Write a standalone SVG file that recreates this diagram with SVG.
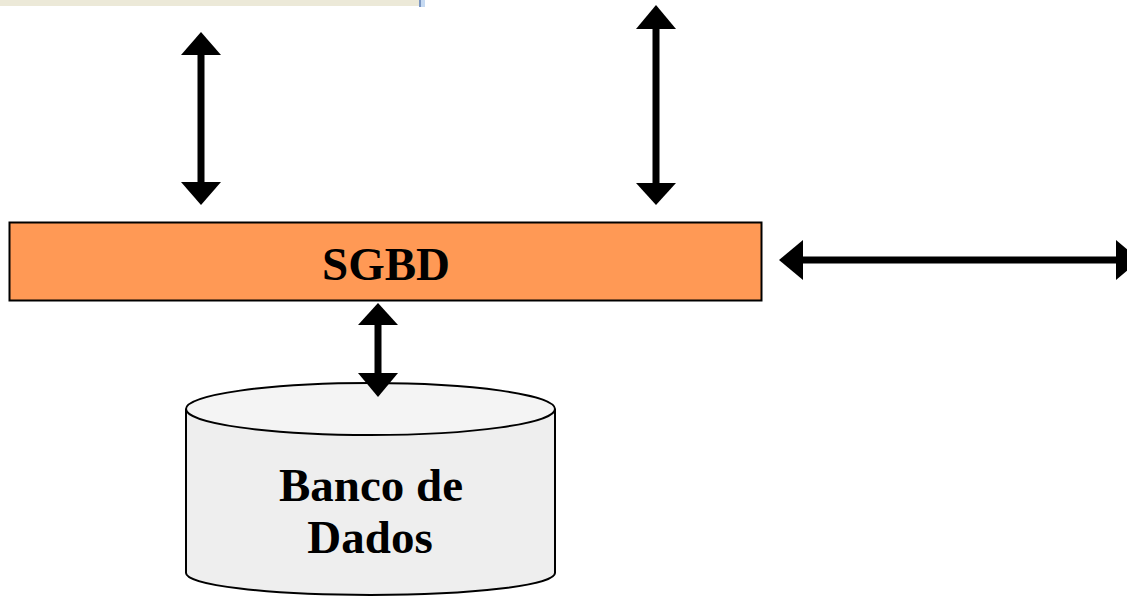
<svg xmlns="http://www.w3.org/2000/svg" width="1127" height="596" viewBox="0 0 1127 596">
<style>
.lbl{font-family:"Liberation Serif","Times New Roman",serif;font-weight:bold;font-size:47px;fill:#000;text-anchor:middle}
.shaft{stroke:#000;stroke-width:7;fill:none}
.head{fill:#000}
</style>
<rect width="1127" height="596" fill="#fff"/>
<g id="window-edge">
<rect x="0" y="0" width="419" height="6" fill="#ECE9D8"/>
<rect x="419" y="0" width="2" height="7" fill="#7A96C2"/>
<rect x="421" y="0" width="4" height="7" fill="#C6DAF2"/>
</g>
<g id="sgbd">
<rect x="9.5" y="222.5" width="752" height="78" fill="#FF9955" stroke="#000" stroke-width="2"/>
<text class="lbl" x="386" y="280">SGBD</text>
</g>
<g id="banco-de-dados">
<path d="M186,409 L186,573 A184.5,22 0 0 0 555,573 L555,409" fill="#EEEEEE" stroke="#000" stroke-width="2"/>
<ellipse cx="370.5" cy="409" rx="184.5" ry="26" fill="#F4F4F4" stroke="#000" stroke-width="2"/>
<text class="lbl" x="371" y="501">Banco de</text>
<text class="lbl" x="370" y="553">Dados</text>
</g>
<g id="connectors">
<line class="shaft" x1="201" y1="52" x2="201" y2="185"/>
<polygon class="head" points="201,32 221,55 181,55"/>
<polygon class="head" points="201,205 221,182 181,182"/>
<line class="shaft" x1="656" y1="26" x2="656" y2="186"/>
<polygon class="head" points="656,5 676,29 636,29"/>
<polygon class="head" points="656,205 676,183 636,183"/>
<line class="shaft" x1="800" y1="260" x2="1120" y2="260"/>
<polygon class="head" points="779,260 803,240 803,280"/>
<polygon class="head" points="1140,260 1116,240 1116,280"/>
<line class="shaft" x1="378" y1="322" x2="378" y2="376"/>
<polygon class="head" points="378,303 398,325 358,325"/>
<polygon class="head" points="378,397 398,373 358,373"/>
</g>
</svg>
